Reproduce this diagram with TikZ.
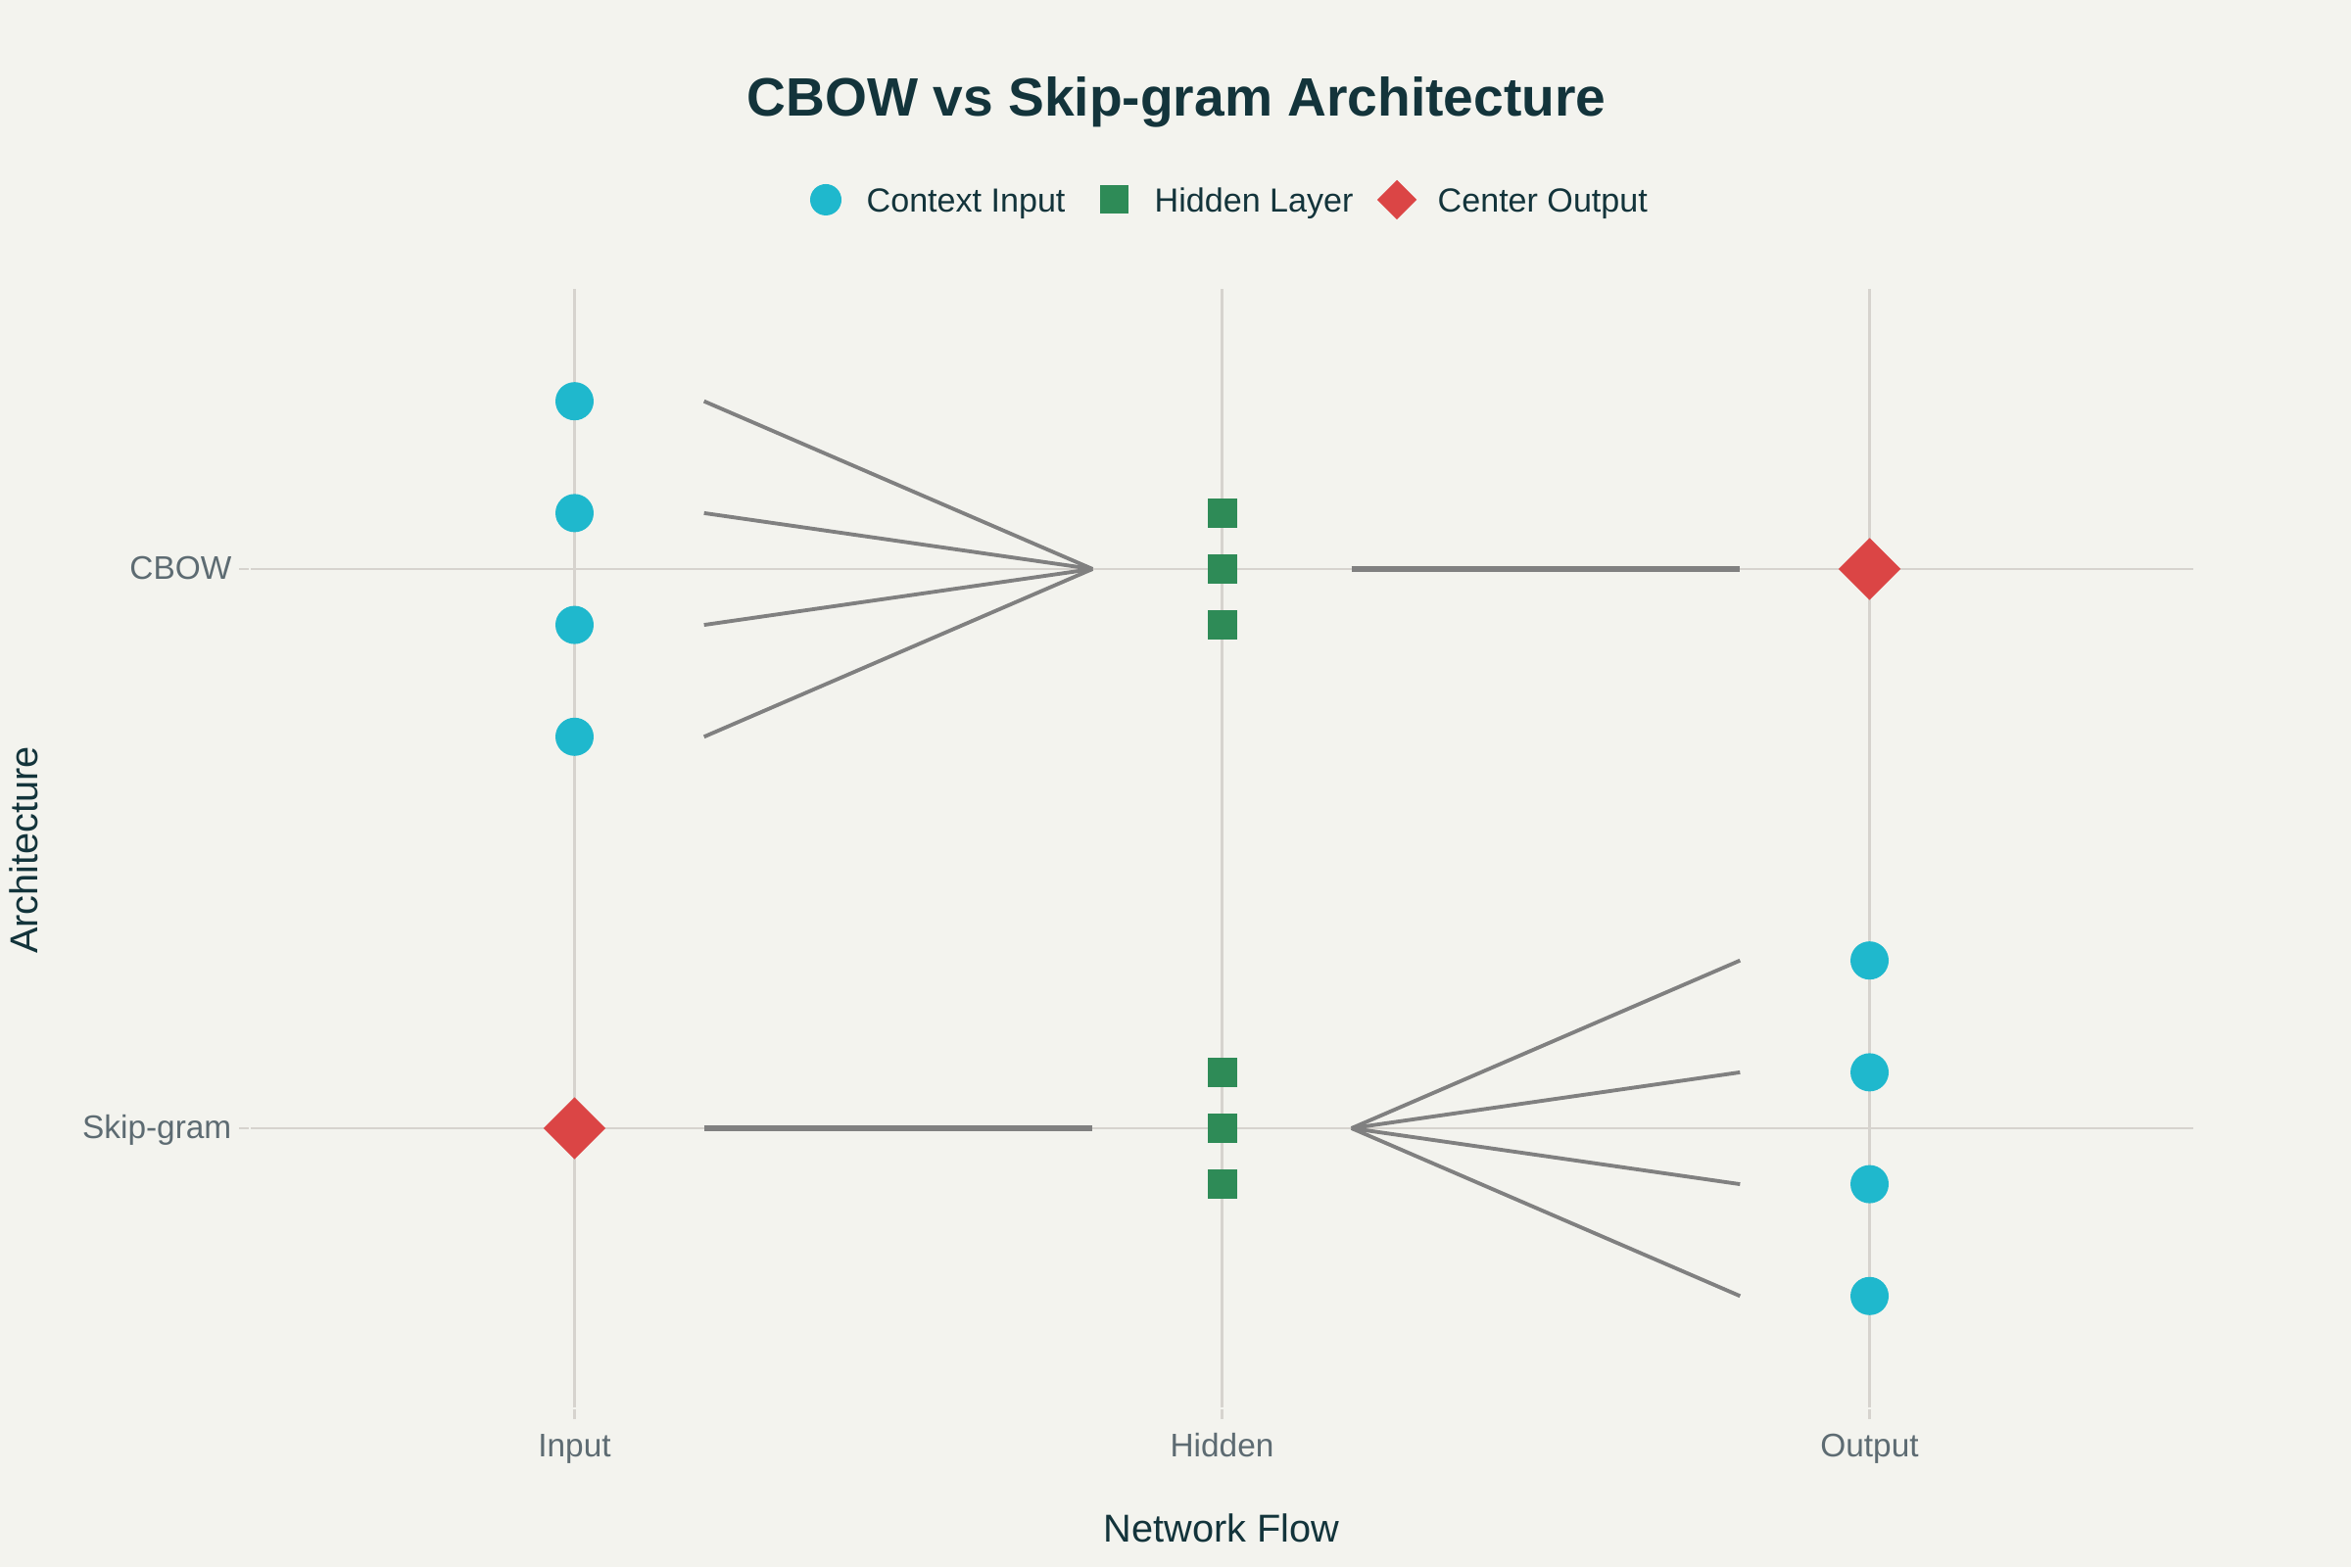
\documentclass[tikz,border=0pt]{standalone}
\usepackage{fontspec}
\setmainfont{Liberation Sans}
\usetikzlibrary{shapes.geometric}
\definecolor{bgcol}{RGB}{243,243,238}
\definecolor{gridcol}{RGB}{214,211,206}
\definecolor{ctxcol}{RGB}{31,184,205}
\definecolor{hidcol}{RGB}{46,139,87}
\definecolor{cencol}{RGB}{219,69,69}
\definecolor{linecol}{RGB}{128,128,128}
\definecolor{titlecol}{RGB}{19,52,59}
\definecolor{tickcol}{RGB}{93,107,114}

\begin{document}
\begin{tikzpicture}[
  ctx/.style={circle, fill=ctxcol, minimum size=0.39cm, inner sep=0pt},
  hid/.style={rectangle, fill=hidcol, minimum size=0.30cm, inner sep=0pt},
  cen/.style={diamond, fill=cencol, minimum size=0.64cm, inner sep=0pt},
  flow/.style={linecol, line width=1.1pt},
  flowmain/.style={linecol, line width=1.7pt},
  gridline/.style={gridcol, line width=0.7pt},
  ticklab/.style={text=tickcol, font=\fontsize{9.5}{11}\selectfont, inner sep=0pt},
  leglab/.style={text=titlecol, font=\fontsize{9.7}{11}\selectfont, inner sep=0pt, anchor=base west},
  axlab/.style={text=titlecol, font=\fontsize{11.3}{13}\selectfont, inner sep=0pt, anchor=base}]
\fill[bgcol] (0,0) rectangle (24,16);
\useasboundingbox (0,0) rectangle (24,16);

\node[text=titlecol, font=\fontsize{15.7}{19}\selectfont\bfseries, anchor=base] (title) at (12.01,14.81) {CBOW vs Skip-gram Architecture};

% legend
\node[ctx, minimum size=0.32cm] (lg1) at (8.43,13.96) {};
\node[leglab] (lt1) at (8.84,13.83) {Context Input};
\node[hid, minimum size=0.29cm] (lg2) at (11.37,13.96) {};
\node[leglab] (lt2) at (11.78,13.83) {Hidden Layer};
\node[cen, minimum size=0.41cm] (lg3) at (14.26,13.96) {};
\node[leglab] (lt3) at (14.67,13.83) {Center Output};

\begin{scope}[shift={(5.865,4.48)}, x=6.61cm, y=5.71cm]
% grid and ticks
\draw[gridline] (-0.5,1) -- (2.5,1);
\draw[gridline] (-0.5,0) -- (2.5,0);
\draw[gridline] (0,-0.5) -- (0,1.5);
\draw[gridline] (1,-0.5) -- (1,1.5);
\draw[gridline] (2,-0.5) -- (2,1.5);
\draw[gridline] ([xshift=-0.12cm]-0.5,1) -- ([xshift=-0.02cm]-0.5,1);
\draw[gridline] ([xshift=-0.12cm]-0.5,0) -- ([xshift=-0.02cm]-0.5,0);
\draw[gridline] ([yshift=-0.02cm]0,-0.5) -- ([yshift=-0.12cm]0,-0.5);
\draw[gridline] ([yshift=-0.02cm]1,-0.5) -- ([yshift=-0.12cm]1,-0.5);
\draw[gridline] ([yshift=-0.02cm]2,-0.5) -- ([yshift=-0.12cm]2,-0.5);

\node[ticklab, anchor=base east] (ycbow) at ([xshift=-0.19cm, yshift=-0.11cm]-0.5,1) {CBOW};
\node[ticklab, anchor=base east] (yskip) at ([xshift=-0.19cm, yshift=-0.11cm]-0.5,0) {Skip-gram};
\node[ticklab, anchor=base] (xin) at ([yshift=-0.50cm]0,-0.5) {Input};
\node[ticklab, anchor=base] (xhid) at ([yshift=-0.50cm]1,-0.5) {Hidden};
\node[ticklab, anchor=base] (xout) at ([yshift=-0.50cm]2,-0.5) {Output};

% CBOW
\node[ctx] (a1) at (0,1.3) {};
\node[ctx] (a2) at (0,1.1) {};
\node[ctx] (a3) at (0,0.9) {};
\node[ctx] (a4) at (0,0.7) {};
\node[hid] (b1) at (1,1.1) {};
\node[hid] (b2) at (1,1) {};
\node[hid] (b3) at (1,0.9) {};
\node[cen] (c1) at (2,1) {};

\coordinate (p1) at (0.2,1.3);
\coordinate (p2) at (0.2,1.1);
\coordinate (p3) at (0.2,0.9);
\coordinate (p4) at (0.2,0.7);
\coordinate (pm) at (0.8,1);
\coordinate (q1) at (1.2,1);
\coordinate (q2) at (1.8,1);
\draw[flow] (p1) -- (pm);
\draw[flow] (p2) -- (pm);
\draw[flow] (p3) -- (pm);
\draw[flow] (p4) -- (pm);
\draw[flowmain] (q1) -- (q2);

% Skip-gram
\node[cen] (d1) at (0,0) {};
\node[hid] (e1) at (1,0.1) {};
\node[hid] (e2) at (1,0) {};
\node[hid] (e3) at (1,-0.1) {};
\node[ctx] (f1) at (2,0.3) {};
\node[ctx] (f2) at (2,0.1) {};
\node[ctx] (f3) at (2,-0.1) {};
\node[ctx] (f4) at (2,-0.3) {};

\coordinate (s1) at (0.2,0);
\coordinate (s2) at (0.8,0);
\coordinate (tm) at (1.2,0);
\coordinate (t1) at (1.8,0.3);
\coordinate (t2) at (1.8,0.1);
\coordinate (t3) at (1.8,-0.1);
\coordinate (t4) at (1.8,-0.3);
\draw[flowmain] (s1) -- (s2);
\draw[flow] (tm) -- (t1);
\draw[flow] (tm) -- (t2);
\draw[flow] (tm) -- (t3);
\draw[flow] (tm) -- (t4);
\end{scope}

\node[axlab] (xtitle) at (12.47,0.25) {Network Flow};
\node[axlab, rotate=90] (ytitle) at (0.39,7.32) {Architecture};
\end{tikzpicture}
\end{document}
